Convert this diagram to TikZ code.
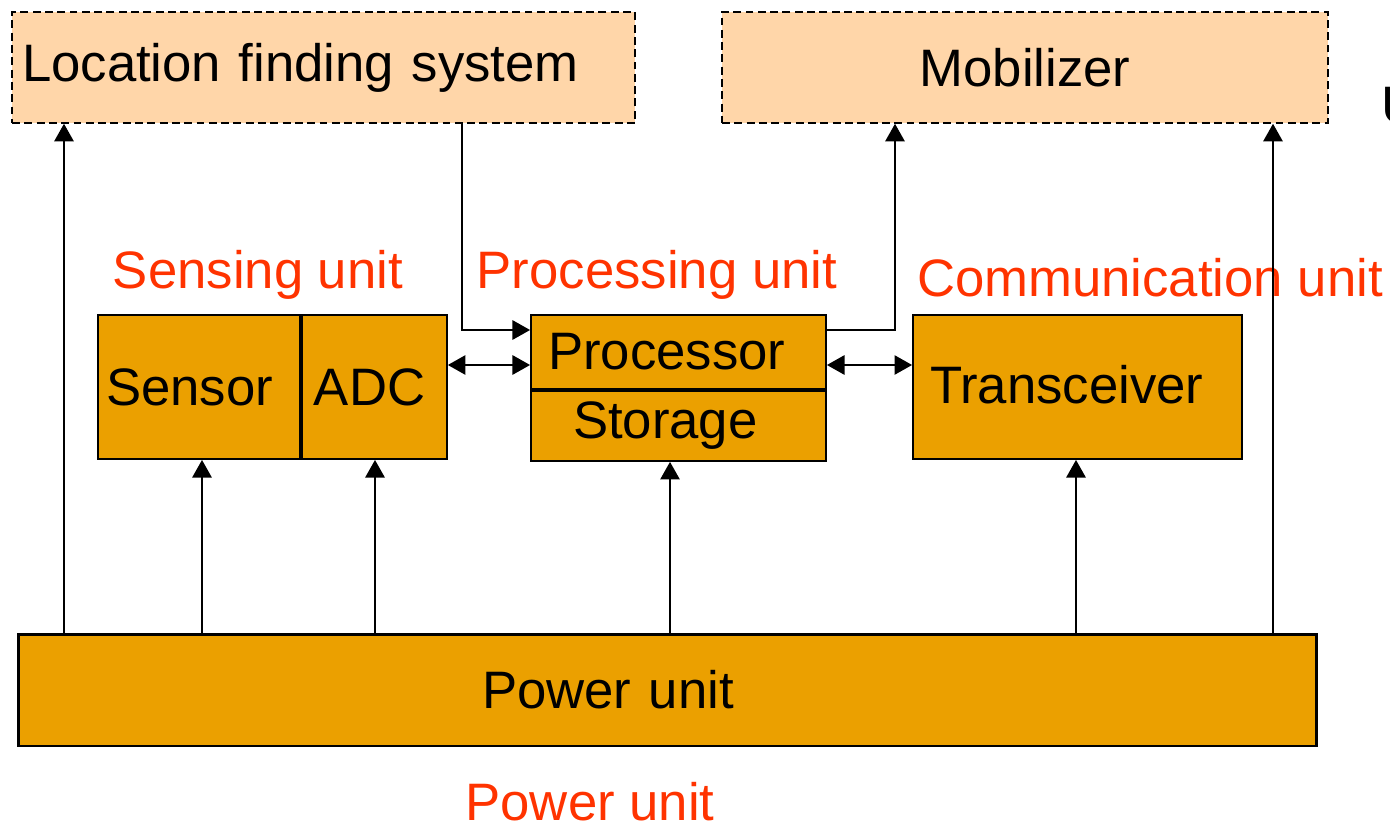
\documentclass[tikz,border=0pt]{standalone}
\usepackage{fontspec}
\setmainfont{Liberation Sans}
\usetikzlibrary{arrows.meta,positioning,calc}
\definecolor{amber}{HTML}{EBA000}
\definecolor{peach}{HTML}{FFD6A9}
\definecolor{signal}{HTML}{FF3300}
\tikzset{
  extblock/.style={
    rectangle, draw=black, fill=peach, dash pattern=on 4.5pt off 2.5pt,
    line width=0.9pt, font=\fontsize{30}{36}\selectfont, inner sep=0pt
  },
  unitblock/.style={
    rectangle, draw=black, fill=amber, line width=1.1pt,
    font=\fontsize{30}{36}\selectfont, inner sep=0pt, align=left
  },
  unitlabel/.style={
    font=\fontsize{30}{36}\selectfont, color=signal, inner sep=0pt
  },
  feed/.style={
    -{Triangle[length=10pt,width=11pt]}, line width=1pt
  },
  duplex/.style={
    {Triangle[length=10pt,width=11pt]}-{Triangle[length=10pt,width=11pt]}, line width=1pt
  },
}

\begin{document}
\begin{tikzpicture}[x=0.02cm, y=-0.02cm]
  \useasboundingbox (0,0) rectangle (1390,828);

  % External subsystems
  \node[extblock, minimum width=12.46cm, minimum height=2.22cm,
        text width=12.06cm, align=left] (loc) at (323.5,67.5)
        {\raisebox{-0.16cm}{Location finding system}};
  \node[extblock, minimum width=12.12cm, minimum height=2.22cm] (mob) at (1025,67.5)
        {Mobilizer};
  \node[font=\fontsize{30}{36}\selectfont, anchor=west, inner sep=0pt] (cut) at (1381,106) {U};

  % Unit names
  \node[unitlabel] (senslbl) at (258,275) {Sensing unit};
  \node[unitlabel] (proclbl) at (657,275) {Processing unit};
  \node[unitlabel] (commlbl) at (1150,278) {Communication unit};
  \node[unitlabel] (pwrlbl) at (590,802) {Power unit};

  % Sensing unit
  \node[unitblock, minimum width=4.04cm, minimum height=2.88cm,
        inner xsep=0.16cm, text width=3.72cm] (sens) at (199,387) {Sensor};
  \node[unitblock, minimum width=2.9cm, minimum height=2.88cm,
        inner xsep=0.24cm, text width=2.42cm, anchor=west] (adc) at (sens.east) {ADC};

  % Processing unit
  \node[unitblock, minimum width=5.9cm, minimum height=1.48cm,
        inner xsep=0.34cm, text width=5.22cm] (proc) at (678.5,352) {Processor};
  \node[unitblock, minimum width=5.9cm, minimum height=1.4cm,
        inner xsep=0.84cm, text width=4.22cm, anchor=north] (stor) at (proc.south)
        {\raisebox{-0.2cm}{Storage}};

  % Communication unit
  \node[unitblock, minimum width=6.58cm, minimum height=2.88cm,
        inner xsep=0.34cm, text width=5.9cm] (trx) at (1077.5,387)
        {\raisebox{0.12cm}{Transceiver}};

  % Power unit
  \node[unitblock, line width=1.7pt, minimum width=25.98cm, minimum height=2.24cm,
        inner xsep=9.28cm, text width=7.42cm] (pwr) at (667.5,690) {Power unit};

  % Power feeds
  \draw[feed] (64,0 |- pwr.north) -- (64,0 |- loc.south);
  \draw[feed] (202,0 |- pwr.north) -- (202,0 |- sens.south);
  \draw[feed] (375,0 |- pwr.north) -- (375,0 |- adc.south);
  \draw[feed] (670,0 |- pwr.north) -- (670,0 |- stor.south);
  \draw[feed] (1076,0 |- pwr.north) -- (1076,0 |- trx.south);
  \draw[feed] (1273,0 |- pwr.north) -- (1273,0 |- mob.south);

  % Data paths
  \draw[feed] (462,0 |- loc.south) |- (proc.west |- 0,330);
  \draw[feed] (proc.east |- 0,330) -| (895,0 |- mob.south);
  \draw[duplex] (adc.east |- 0,365) -- (proc.west |- 0,365);
  \draw[duplex] (proc.east |- 0,365) -- (trx.west |- 0,365);
\end{tikzpicture}
\end{document}
